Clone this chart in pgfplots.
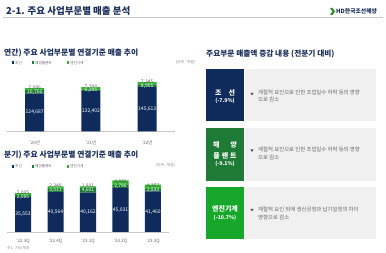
\documentclass[border=0pt]{standalone}
\usepackage{fontspec}
\setmainfont{Noto Sans CJK KR}
\usepackage{pgfplots}
\pgfplotsset{compat=1.18}
\definecolor{navy}{HTML}{0F2B5B}
\definecolor{hnavy}{HTML}{1B2E5C}
\definecolor{dkgreen}{HTML}{1E7B36}
\definecolor{ltgreen}{HTML}{2DB52D}
\definecolor{boxthree}{HTML}{17A82B}
\definecolor{panel}{HTML}{F0F0F0}
\definecolor{txtgray}{HTML}{666666}
\definecolor{lightline}{HTML}{C8C8C8}
\newcommand{\fs}[1]{\fontsize{#1}{#1}\selectfont}
\tikzset{inlab/.style={font=\fs{5}, text=white, inner sep=0pt}}
\begin{document}
\begin{tikzpicture}[x=1pt,y=1pt]
\useasboundingbox (0,0) rectangle (386,253);
\fill[white] (0,0) rectangle (386,253);
% header
\node[anchor=west, text=hnavy, font=\fs{9.5}\bfseries, inner sep=0] at (6,242) {2-1. 주요 사업부문별 매출 분석};
\draw[lightline, line width=0.8pt] (3,236) -- (383,236);
\fill[ltgreen!80!black] (330,245) -- (332.5,245) -- (335,241.5) -- (332.5,238) -- (330,238) -- (332.5,241.5) -- cycle;
\node[anchor=west, text=hnavy, font=\fs{5.8}\bfseries, inner sep=0] at (336,241.5) {HD한국조선해양};
% section headers
\node[anchor=west, text=hnavy, font=\fs{7.8}\bfseries, inner sep=0] at (4,200) {연간) 주요 사업부문별 연결기준 매출 추이};
\node[anchor=west, text=hnavy, font=\fs{7.8}\bfseries, inner sep=0] at (4,98) {분기) 주요 사업부문별 연결기준 매출 추이};
\node[anchor=west, text=hnavy, font=\fs{7.7}\bfseries, inner sep=0] at (206,199) {주요부문 매출액 증감 내용 (전분기 대비)};
% legends
\foreach \yy in {190.3,86.5}{
  \fill[navy] (11.5,\yy-1.3) rectangle +(2.6,2.6);
  \node[anchor=west, text=txtgray, font=\fs{3.6}, inner sep=0] at (15,\yy) {조선};
  \fill[dkgreen] (31.5,\yy-1.3) rectangle +(2.6,2.6);
  \node[anchor=west, text=txtgray, font=\fs{3.6}, inner sep=0] at (35,\yy) {해양플랜트};
  \fill[ltgreen] (66.5,\yy-1.3) rectangle +(2.6,2.6);
  \node[anchor=west, text=txtgray, font=\fs{3.6}, inner sep=0] at (70,\yy) {엔진기계};
}
\node[anchor=east, text=txtgray!80, font=\fs{3.6}, inner sep=0] at (195,191) {(단위 : 억원)};
\node[anchor=east, text=txtgray!80, font=\fs{3.6}, inner sep=0] at (175,88) {(단위 : 억원)};
\node[anchor=west, text=txtgray!80, font=\fs{3.6}, inner sep=0] at (7,5) {주1 : 기타 제외};
% annual chart
\begin{axis}[at={(6.6pt,121.7pt)}, anchor=south west, scale only axis,
  width=168.75pt, height=60pt, ybar stacked, bar width=19pt,
  ymin=0, ymax=198000, xmin=-0.5, xmax=2.5,
  axis y line=none, axis x line=bottom, x axis line style={-,lightline},
  xtick=data, xticklabels={{'20년},{'21년},{'22년}}, xtick style={draw=none},
  xticklabel style={font=\fs{4.5}, text=txtgray, yshift=-3.5pt}, clip=false,
  every node near coord/.append style={font=\fs{5}, text=txtgray, inner sep=1pt, yshift=1.5pt},
  after end axis/.code={
    \node[inlab] at (axis cs:0,62343) {124,687};
    \node[inlab] at (axis cs:1,66201) {132,402};
    \node[inlab] at (axis cs:2,72806) {145,613};
    \node[inlab] at (axis cs:0,130070) {10,766};
    \node[inlab] at (axis cs:1,135504) {6,205};
    \node[inlab] at (axis cs:2,150065) {8,905};
  }]
\addplot[fill=navy, draw=none] coordinates {(0,124687) (1,132402) (2,145613)};
\addplot[fill=dkgreen, draw=none] coordinates {(0,10766) (1,6205) (2,8905)};
\addplot[fill=ltgreen, draw=none, point meta=explicit symbolic, nodes near coords]
  coordinates {(0,7086) [7,086] (1,7398) [7,398] (2,7345) [7,345]};
\end{axis}
% quarterly chart
\begin{axis}[at={(6.75pt,21pt)}, anchor=south west, scale only axis,
  width=162.5pt, height=60pt, ybar stacked, bar width=16pt,
  ymin=0, ymax=61200, xmin=-0.5, xmax=4.5,
  axis y line=none, axis x line=bottom, x axis line style={-,lightline},
  xtick=data, xticklabels={{'22.3Q},{'22.4Q},{'23.1Q},{'23.2Q},{'23.3Q}}, xtick style={draw=none},
  xticklabel style={font=\fs{4.5}, text=txtgray, yshift=-1.5pt}, clip=false,
  every node near coord/.append style={font=\fs{5}, text=txtgray, inner sep=1pt, yshift=1pt},
  after end axis/.code={
    \node[inlab] at (axis cs:0,17776) {35,553};
    \node[inlab] at (axis cs:1,20282) {40,564};
    \node[inlab] at (axis cs:2,20081) {40,162};
    \node[inlab] at (axis cs:3,22515) {45,031};
    \node[inlab] at (axis cs:4,20730) {41,460};
    \node[inlab] at (axis cs:0,35900) {2,085};
    \node[inlab] at (axis cs:1,42319) {3,511};
    \node[inlab] at (axis cs:2,42462) {4,601};
    \node[inlab] at (axis cs:3,46424) {2,786};
    \node[inlab] at (axis cs:4,42726) {2,533};
  }]
\addplot[fill=navy, draw=none] coordinates {(0,35553) (1,40564) (2,40162) (3,45031) (4,41460)};
\addplot[fill=dkgreen, draw=none] coordinates {(0,2085) (1,3511) (2,4601) (3,2786) (4,2533)};
\addplot[fill=ltgreen, draw=none, point meta=explicit symbolic, nodes near coords]
  coordinates {(0,2095) [2,095] (1,2349) [2,349] (2,1801) [1,801] (3,4880) [4,880] (4,4357) [4,357]};
\end{axis}
% right panel boxes
\fill[navy] (206,132) rectangle (244,184);
\fill[panel] (245,132) rectangle (376,184);
\fill[dkgreen] (206,72) rectangle (244,125);
\fill[panel] (245,72) rectangle (376,125);
\fill[boxthree] (206,14) rectangle (244,66);
\fill[panel] (245,14) rectangle (376,66);
\node[font=\fs{7}\bfseries, text=white, inner sep=0] at (225,160.3) {조\hspace{7pt}선};
\node[font=\fs{5.2}\bfseries, text=white, inner sep=0] at (225,152) {(-7.9\%)};
\node[font=\fs{7}\bfseries, text=white, inner sep=0] at (225,108) {해\hspace{11pt}양};
\node[font=\fs{7}\bfseries, text=white, inner sep=0] at (225,97.3) {플\hspace{2pt}랜\hspace{2pt}트};
\node[font=\fs{5.2}\bfseries, text=white, inner sep=0] at (225,88.7) {(-9.1\%)};
\node[font=\fs{7}\bfseries, text=white, inner sep=0] at (225,43.7) {엔진기계};
\node[font=\fs{5.2}\bfseries, text=white, inner sep=0] at (225,34.7) {(-10.7\%)};
\node[text=txtgray, font=\fs{5.4}, inner sep=0, anchor=west] at (258,160.3) {계절적 요인으로 인한 조업일수 하락 등의 영향};
\node[text=txtgray, font=\fs{5.4}, inner sep=0, anchor=west] at (258,153.7) {으로 감소};
\node[text=txtgray, font=\fs{5.4}, inner sep=0, anchor=west] at (258,103.7) {계절적 요인으로 인한 조업일수 하락 등의 영향};
\node[text=txtgray, font=\fs{5.4}, inner sep=0, anchor=west] at (258,95.3) {으로 감소};
\node[text=txtgray, font=\fs{5.4}, inner sep=0, anchor=west] at (258,43.7) {계절적 요인 외에 생산공정과 납기일정의 차이};
\node[text=txtgray, font=\fs{5.4}, inner sep=0, anchor=west] at (258,35.3) {영향으로 감소};
\foreach \ty in {159,102.5,43}{
  \fill[txtgray!80!black] (250.3,\ty+1.2) -- (253.7,\ty+1.2) -- (252,\ty-1.5) -- cycle;
}
\end{tikzpicture}
\end{document}
